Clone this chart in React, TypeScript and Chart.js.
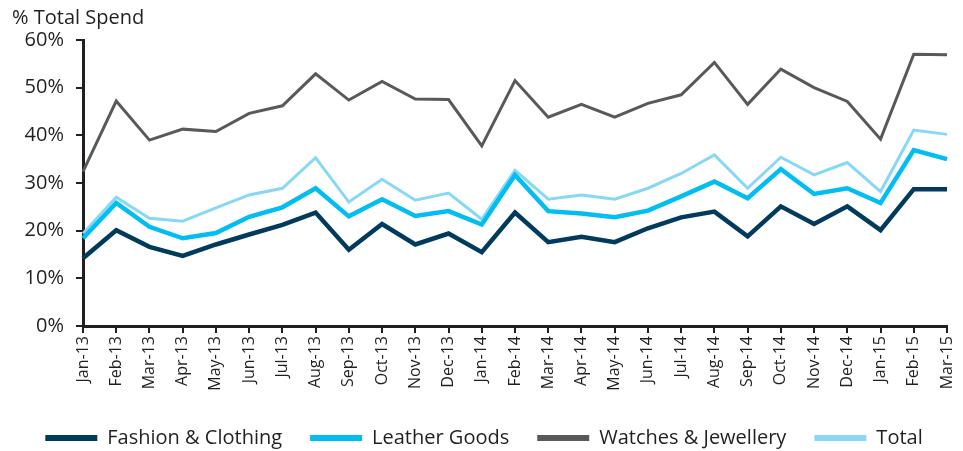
import React, { useEffect, useRef } from "react";
import { Chart, registerables } from "chart.js";

Chart.register(...registerables);

const categories = [
  "Jan-13", "Feb-13", "Mar-13", "Apr-13", "May-13", "Jun-13", "Jul-13", "Aug-13", "Sep-13",
  "Oct-13", "Nov-13", "Dec-13", "Jan-14", "Feb-14", "Mar-14", "Apr-14", "May-14", "Jun-14",
  "Jul-14", "Aug-14", "Sep-14", "Oct-14", "Nov-14", "Dec-14", "Jan-15", "Feb-15", "Mar-15",
];

const fashionClothing = [
  14.2, 20.1, 16.6, 14.7, 17.1, 19.2, 21.2, 23.8, 16.0,
  21.4, 17.1, 19.4, 15.5, 23.8, 17.6, 18.7, 17.6, 20.5,
  22.8, 24.0, 18.8, 25.1, 21.4, 25.1, 20.1, 28.7, 28.7,
];

const leatherGoods = [
  18.4, 25.8, 20.8, 18.4, 19.5, 22.9, 24.9, 28.9, 23.0,
  26.6, 23.1, 24.1, 21.3, 31.7, 24.1, 23.6, 22.8, 24.2,
  27.2, 30.3, 26.8, 32.9, 27.7, 28.9, 25.8, 36.9, 35.0,
];

const watchesJewellery = [
  32.4, 47.2, 39.0, 41.3, 40.8, 44.6, 46.2, 52.9, 47.4,
  51.3, 47.6, 47.5, 37.8, 51.5, 43.8, 46.5, 43.8, 46.7,
  48.5, 55.3, 46.5, 53.9, 50.0, 47.1, 39.2, 57.0, 56.9,
];

const total = [
  19.4, 27.0, 22.6, 22.0, 24.8, 27.5, 28.9, 35.3, 26.0,
  30.8, 26.4, 27.9, 22.4, 32.7, 26.6, 27.5, 26.6, 28.9,
  32.0, 35.9, 28.9, 35.4, 31.7, 34.3, 28.2, 41.1, 40.2,
];

const yTicks = [0, 10, 20, 30, 40, 50, 60];

const FONT = "'Open Sans', 'Noto Sans', sans-serif";
const TEXT = "#231f20";

export default function App() {
  const ref = useRef<HTMLCanvasElement | null>(null);

  useEffect(() => {
    if (!ref.current) return;
    const mk = (label: string, data: number[], color: string, width: number) => ({
      label,
      data,
      borderColor: color,
      backgroundColor: color,
      borderWidth: width,
      pointRadius: 0,
      pointHoverRadius: 0,
      tension: 0,
      fill: false,
    });
    const defaultLabels = (Chart.defaults.plugins.legend.labels as any).generateLabels;
    const chart = new Chart(ref.current, {
      type: "line",
      data: {
        labels: categories,
        datasets: [
          mk("Fashion & Clothing", fashionClothing, "#003a5d", 4.5),
          mk("Leather Goods", leatherGoods, "#00bdf2", 4.5),
          mk("Watches & Jewellery", watchesJewellery, "#58595b", 3),
          mk("Total", total, "#87d8f6", 3),
        ],
      },
      options: {
        animation: false,
        responsive: false,
        maintainAspectRatio: false,
        layout: { padding: { left: 12, right: 7, top: 6, bottom: -7 } },
        plugins: {
          tooltip: { enabled: false },
          title: {
            display: true,
            text: "% Total Spend",
            align: "start",
            color: TEXT,
            font: { family: FONT, size: 20, weight: "normal", lineHeight: 1.2 },
            padding: { top: 0, bottom: 10 },
          },
          legend: {
            position: "bottom",
            labels: {
              boxWidth: 52,
              boxHeight: 6,
              color: TEXT,
              padding: 28,
              font: { family: FONT, size: 20 },
              generateLabels: (c: any) =>
                defaultLabels(c).map((l: any) => ({ ...l, lineWidth: 0 })),
            },
          },
        },
        scales: {
          x: {
            offset: false,
            afterFit: (scale: any) => {
              scale.height = 74;
              scale.paddingRight = 16;
            },
            grid: {
              display: true,
              drawOnChartArea: false,
              drawTicks: true,
              tickLength: 7,
              color: TEXT,
              lineWidth: 2,
            },
            border: { display: true, color: TEXT, width: 3 },
            ticks: {
              autoSkip: false,
              maxRotation: 90,
              minRotation: 90,
              color: TEXT,
              padding: 3,
              font: { family: FONT, size: 16 },
            },
          },
          y: {
            min: 0,
            max: 60,
            afterFit: (scale: any) => {
              scale.width = 71;
            },
            afterBuildTicks: (scale: any) => {
              scale.ticks = yTicks.map((v) => ({ value: v }));
            },
            grid: {
              display: true,
              drawOnChartArea: false,
              drawTicks: true,
              tickLength: 7,
              color: TEXT,
              lineWidth: 2,
            },
            border: { display: true, color: TEXT, width: 3 },
            ticks: {
              color: TEXT,
              padding: 12,
              font: { family: FONT, size: 20 },
              callback: (v: any) => `${v}%`,
            },
          },
        },
      },
    });
    return () => chart.destroy();
  }, []);

  return (
    <div style={{ position: "fixed", left: 0, top: 0, width: 963, height: 451, background: "#fff" }}>
      <canvas ref={ref} width={963} height={451} style={{ width: 963, height: 451 }} />
    </div>
  );
}
